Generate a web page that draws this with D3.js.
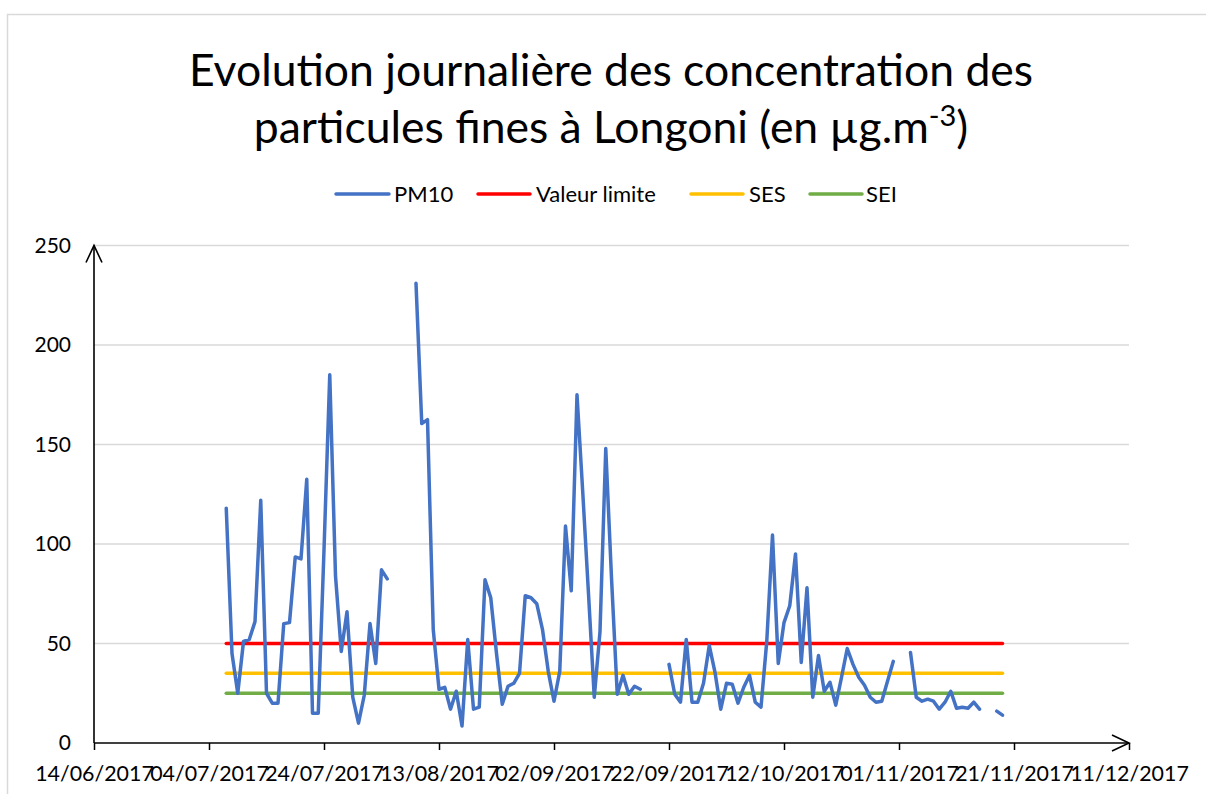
<!DOCTYPE html>
<html>
<head>
<meta charset="utf-8">
<script src="https://cdn.jsdelivr.net/npm/d3@7"></script>
<style>
  html, body { margin: 0; padding: 0; background: #fff; }
  svg { display: block; }
  text { font-family: Lato, "Open Sans", sans-serif; fill: #000; }
</style>
</head>
<body>
<svg id="chart" width="1206" height="794"></svg>
<script>
// ---------- data ----------
const titleLines = ["Evolution journalière des concentration des", "particules fines à Longoni (en µg.m"];
const titleSup = "-3";
const titleTail = ")";
const seriesNames = ["PM10", "Valeur limite", "SES", "SEI"];
const seriesColors = ["#4472C4", "#FF0000", "#FFC000", "#70AD47"];
const xTickLabels = ["14/06/2017", "04/07/2017", "24/07/2017", "13/08/2017", "02/09/2017",
                     "22/09/2017", "12/10/2017", "01/11/2017", "21/11/2017", "11/12/2017"];
const yTickValues = [0, 50, 100, 150, 200, 250];
const firstDay = "07/07/2017";
// daily PM10 values from 07/07/2017 (null = no measurement)
const pm10 = [
  118, 45, 25, 51, 52, 61, 122, 25, 20, 20,
  60, 60.5, 93.5, 92.5, 132.5, 15, 15, 97, 185, 84,
  46, 66, 23, 10, 24, 60, 40, 87, 82.5, null,
  null, null, null, 231, 160.5, 162.5, 57, 27, 28, 17,
  26, 8.5, 52, 17, 18, 82, 73, 45, 19.5, 28.5,
  30, 35, 74, 73, 70, 57, 36, 21, 36, 109,
  76.5, 175, 126, 75, 23, 56, 148, 83, 24.5, 34,
  24.5, 28.5, 27, null, null, null, null, 39.5, 24.5, 20.5,
  52, 20.5, 20.5, 30, 49, 35.5, 17, 30, 29.5, 20,
  28, 34, 20.5, 18, 51, 104.5, 40, 60.5, 69, 95,
  40.5, 78, 23, 44, 26, 30.5, 19, 33, 47.5, 39.5,
  33, 29, 23, 20.5, 21, 31, 41, null, null, 45.5,
  23, 21, 22, 21, 17, 20.5, 26, 17.5, 18, 17.5,
  20.5, 17, null, null, 16, 14
];
const valeurLimite = 50;
const ses = 35;
const sei = 25;

// ---------- layout ----------
const svg = d3.select("#chart");
const parse = d3.utcParse("%d/%m/%Y");
const plot = { left: 94, right: 1129, top: 245.5, bottom: 743 };

const tickDates = xTickLabels.map(parse);
const x = d3.scaleUtc()
  .domain([tickDates[0], tickDates[tickDates.length - 1]])
  .range([plot.left, plot.right]);
const y = d3.scaleLinear().domain([0, 250]).range([plot.bottom, plot.top]);

const start = parse(firstDay);
const pts = pm10.map((v, i) => ({ date: d3.utcDay.offset(start, i), v }));
const lastDate = d3.utcDay.offset(start, pm10.length - 1);

// outer chart border
svg.append("rect")
  .attr("x", 7.5).attr("y", 14.5).attr("width", 1220).attr("height", 820)
  .attr("fill", "none").attr("stroke", "#d9d9d9").attr("stroke-width", 1.5);

// title
const title = svg.append("text").attr("text-anchor", "middle").style("font-size", "44.5px");
title.append("tspan").attr("x", 611).attr("y", 86).text(titleLines[0]);
title.append("tspan").attr("x", 611).attr("y", 143).text(titleLines[1]);
title.append("tspan").attr("dy", -17).style("font-size", "29px").text(titleSup);
title.append("tspan").attr("dy", 17).text(titleTail);

// legend
const legendItems = [
  { name: seriesNames[0], color: seriesColors[0], x1: 336, x2: 389, tx: 394 },
  { name: seriesNames[1], color: seriesColors[1], x1: 478, x2: 530, tx: 536 },
  { name: seriesNames[2], color: seriesColors[2], x1: 691, x2: 743, tx: 749 },
  { name: seriesNames[3], color: seriesColors[3], x1: 810, x2: 862, tx: 866 }
];
const lg = svg.append("g");
legendItems.forEach(d => {
  lg.append("line").attr("x1", d.x1).attr("x2", d.x2).attr("y1", 194).attr("y2", 194)
    .attr("stroke", d.color).attr("stroke-width", 3.5).attr("stroke-linecap", "round");
  lg.append("text").attr("x", d.tx).attr("y", 202).style("font-size", "22px").text(d.name);
});

// gridlines
svg.append("g").selectAll("line").data(yTickValues.filter(v => v > 0)).join("line")
  .attr("x1", plot.left).attr("x2", plot.right)
  .attr("y1", d => y(d)).attr("y2", d => y(d))
  .attr("stroke", "#d9d9d9").attr("stroke-width", 1.3);

// y axis labels
const yAxis = d3.axisLeft(y).tickValues(yTickValues).tickSize(0).tickPadding(23);
const yg = svg.append("g").attr("transform", `translate(${plot.left},0)`).call(yAxis);
yg.select(".domain").remove();
yg.selectAll("text").style("font-size", "21px").style("font-family", "Lato, sans-serif").attr("fill", "#000");

// x axis
const xAxis = d3.axisBottom(x).tickValues(tickDates).tickFormat((d, i) => xTickLabels[i])
  .tickSize(7).tickPadding(16);
const xg = svg.append("g").attr("transform", `translate(0,${plot.bottom})`).call(xAxis);
xg.select(".domain").remove();
xg.selectAll(".tick line").attr("stroke", "#000").attr("stroke-width", 1.5);
xg.selectAll("text").style("font-size", "21.4px").style("font-family", "Lato, sans-serif").attr("fill", "#000");

// axis lines with arrows
const ax = svg.append("g").attr("stroke", "#000").attr("stroke-width", 1.6).attr("fill", "none");
ax.append("line").attr("x1", plot.left).attr("x2", plot.right).attr("y1", plot.bottom).attr("y2", plot.bottom);
ax.append("line").attr("x1", plot.left).attr("x2", plot.left).attr("y1", plot.bottom).attr("y2", plot.top);
ax.append("path").attr("d", `M${plot.left - 8},${plot.top + 17}L${plot.left},${plot.top}L${plot.left + 8},${plot.top + 17}`);
ax.append("path").attr("d", `M${plot.right - 17},${plot.bottom - 8}L${plot.right},${plot.bottom}L${plot.right - 17},${plot.bottom + 8}`);

// reference lines
[[valeurLimite, seriesColors[1]], [ses, seriesColors[2]], [sei, seriesColors[3]]].forEach(([v, c]) => {
  svg.append("line")
    .attr("x1", x(start)).attr("x2", x(lastDate))
    .attr("y1", y(v)).attr("y2", y(v))
    .attr("stroke", c).attr("stroke-width", 3.5).attr("stroke-linecap", "round");
});

// PM10 line
const line = d3.line().defined(d => d.v != null).x(d => x(d.date)).y(d => y(d.v));
svg.append("path").datum(pts).attr("d", line)
  .attr("fill", "none").attr("stroke", seriesColors[0]).attr("stroke-width", 3.5)
  .attr("stroke-linejoin", "round").attr("stroke-linecap", "round");
</script>
</body>
</html>
